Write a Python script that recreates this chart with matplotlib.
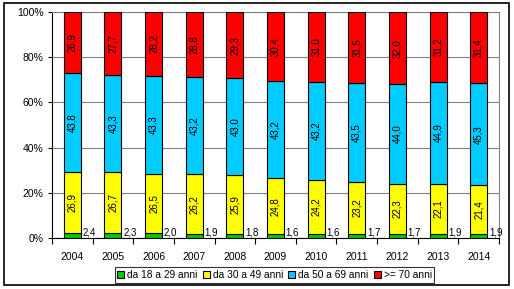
import matplotlib
matplotlib.use("Agg")
import matplotlib.pyplot as plt
from matplotlib.patches import Rectangle
import numpy as np

plt.rcParams['font.family'] = ['Liberation Sans', 'DejaVu Sans']

years = ['2004', '2005', '2006', '2007', '2008', '2009', '2010', '2011', '2012', '2013', '2014']
green = [2.4, 2.3, 2.0, 1.9, 1.8, 1.6, 1.6, 1.7, 1.7, 1.9, 1.9]
yellow = [26.9, 26.7, 26.5, 26.2, 25.9, 24.8, 24.2, 23.2, 22.3, 22.1, 21.4]
blue = [43.8, 43.3, 43.3, 43.2, 43.0, 43.2, 43.2, 43.5, 44.0, 44.9, 45.3]
red = [26.9, 27.7, 28.2, 28.8, 29.3, 30.4, 31.0, 31.5, 32.0, 31.2, 31.4]
series_names = ['da 18 a 29 anni', 'da 30 a 49 anni', 'da 50 a 69 anni', '>= 70 anni']
colors = ['#00CC00', '#FFFF00', '#00CCFF', '#FF0000']

fig = plt.figure(figsize=(5.14, 2.89), dpi=100)
fig.patches.append(Rectangle((4/514, 1-285/289), 505/514, 282/289, transform=fig.transFigure,
                             fill=False, edgecolor='black', linewidth=1.2))
ax = fig.add_axes([52/514, 1-238/289, 447/514, 226/289])

x = np.arange(len(years))
w = 0.42
data = [green, yellow, blue, red]
bottom = np.zeros(len(years))
handles = []
for vals, c, name in zip(data, colors, series_names):
    v = np.array(vals)
    b = ax.bar(x, v, w, bottom=bottom, color=c, edgecolor='black', linewidth=0.8, label=name, zorder=3)
    handles.append(b)
    bottom = bottom + v

# labels
for i in range(len(years)):
    ax.text(x[i] + w/2 + 0.04, 0.3, f"{green[i]:.1f}".replace('.', ','), ha='left', va='bottom',
            fontsize=7, zorder=4)
    base = green[i]
    for vals in (yellow, blue, red):
        ax.text(x[i], base + vals[i]/2, f"{vals[i]:.1f}".replace('.', ','), ha='center', va='center',
                rotation=90, fontsize=7, zorder=4)
        base += vals[i]

ax.set_xlim(-0.5, len(years) - 0.5)
ax.set_ylim(0, 100)
ax.set_yticks([0, 20, 40, 60, 80, 100])
ax.set_yticklabels(['0%', '20%', '40%', '60%', '80%', '100%'], fontsize=7.5)
ax.set_xticks(x)
ax.set_xticklabels(years, fontsize=7.5)
ax.set_xticks(np.arange(-0.5, len(years), 1), minor=True)
ax.tick_params(axis='x', which='major', length=0, pad=10)
ax.tick_params(axis='x', which='minor', length=4, width=0.8, direction='out')
ax.tick_params(axis='y', length=3, width=0.8, direction='out', pad=3)
ax.yaxis.grid(True, color='#808080', linewidth=0.8, zorder=0)
ax.set_axisbelow(True)
for s in ['top', 'right']:
    ax.spines[s].set_color('#808080')
    ax.spines[s].set_linewidth(0.8)
for s in ['left', 'bottom']:
    ax.spines[s].set_color('black')
    ax.spines[s].set_linewidth(0.8)

leg = fig.legend(handles=handles, labels=series_names, loc='center', bbox_to_anchor=(274.5/514, 1-275/289),
                 ncol=4, fontsize=7.3, frameon=True, fancybox=False, edgecolor='black',
                 handlelength=0.7, handleheight=0.7, handletextpad=0.3, columnspacing=0.5,
                 borderpad=0.25, borderaxespad=0)
leg.get_frame().set_linewidth(0.8)

fig.savefig('out.png', dpi=100)
